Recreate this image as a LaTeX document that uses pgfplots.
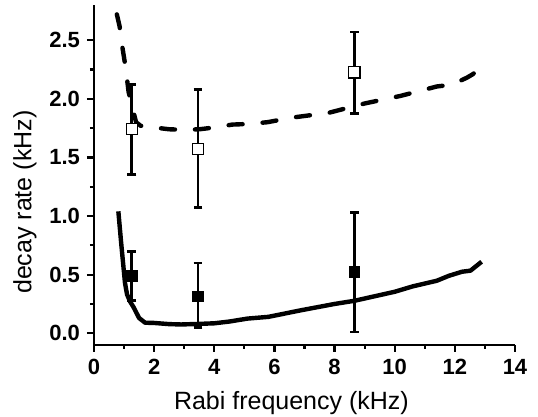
\documentclass[border=0pt]{standalone}
\usepackage{pgfplots}
\pgfplotsset{compat=1.18}
\usepackage{fontspec}
\setmainfont{Liberation Sans}
\begin{document}
\begin{tikzpicture}
\begin{axis}[
  scale only axis,
  width=210.5pt, height=170pt,
  xmin=0, xmax=14, ymin=-0.1, ymax=2.8,
  axis lines*=left,
  axis line style={line width=1.1pt},
  xtick={0,2,...,14},
  ytick={0,0.5,...,2.5},
  minor x tick num=1, minor y tick num=1,
  tick align=outside,
  major tick length=3.5pt, minor tick length=2pt,
  every tick/.style={line width=1.1pt, black},
  tick label style={font=\fontsize{11}{12}\selectfont\bfseries},
  /pgf/number format/assume math mode=true,
  yticklabel style={/pgf/number format/.cd, fixed, fixed zerofill, precision=1},
  xticklabel style={/pgf/number format/.cd, fixed, precision=0},
  label style={font=\fontsize{12.5}{14}\selectfont},
  xlabel={Rabi frequency (kHz)},
  ylabel={decay rate (kHz)},
  xlabel style={at={(axis description cs:0.469,-0.171)}, anchor=center},
  ylabel style={at={(axis description cs:-0.164,0.42)}, anchor=center, rotate=0},
  clip=false,
]
\coordinate (bl) at (rel axis cs:0,0);
% dashed theory curve
\addplot[black, line width=2.2pt, line cap=round, dash pattern=on 7pt off 10pt] coordinates {
(0.76,2.72) (0.85,2.62) (0.95,2.43) (1.05,2.27) (1.15,2.06) (1.26,1.94) (1.4,1.80) (1.55,1.77)
(2.0,1.755) (2.5,1.74) (3.0,1.735) (3.5,1.74) (4.0,1.755) (4.6,1.78) (5.1,1.785) (5.76,1.80)
(6.6,1.84) (7.8,1.88) (9.0,1.96) (10.2,2.025) (11.4,2.105) (11.9,2.12) (12.4,2.18) (12.6,2.21) (12.86,2.27)
};
% solid theory curve
\addplot[black, line width=2.2pt, line join=round] coordinates {
(0.81,1.04) (0.9,0.78) (1.03,0.43) (1.1,0.33) (1.2,0.27) (1.31,0.225) (1.5,0.13) (1.7,0.09)
(2.0,0.088) (2.5,0.078) (2.9,0.075) (3.5,0.08) (4.0,0.085) (4.5,0.10) (5.1,0.125) (5.8,0.14)
(6.9,0.197) (8.0,0.25) (8.66,0.277) (10.0,0.354) (10.6,0.40) (11.4,0.448) (11.8,0.49) (12.24,0.525) (12.52,0.534) (12.89,0.61)
};
% open squares with error bars
\addplot[black, only marks, mark=square*, mark size=2.8pt,
  mark options={fill=white, draw=black, line width=0.6pt},
  error bars/.cd, y dir=both, y explicit,
  error bar style={line width=1.4pt, black},
  error mark options={rotate=90, mark size=2.2pt, line width=1.4pt, black}]
  table[x=x, y=y, y error plus=ep, y error minus=em] {
x y ep em
1.26 1.74 0.385 0.386
3.46 1.574 0.506 0.504
8.66 2.225 0.345 0.351
};
% filled squares with error bars
\addplot[black, only marks, mark=square*, mark size=2.6pt,
  mark options={fill=black, draw=black},
  error bars/.cd, y dir=both, y explicit,
  error bar style={line width=1.4pt, black},
  error mark options={rotate=90, mark size=2.2pt, line width=1.4pt, black}]
  table[x=x, y=y, y error plus=ep, y error minus=em] {
x y ep em
1.26 0.49 0.21 0.21
3.46 0.317 0.283 0.267
8.66 0.525 0.505 0.515
};
\end{axis}
\pgfresetboundingbox
\path ([shift={(-47pt,-36pt)}]bl) rectangle ([shift={(222pt,172.5pt)}]bl);
\end{tikzpicture}
\end{document}
